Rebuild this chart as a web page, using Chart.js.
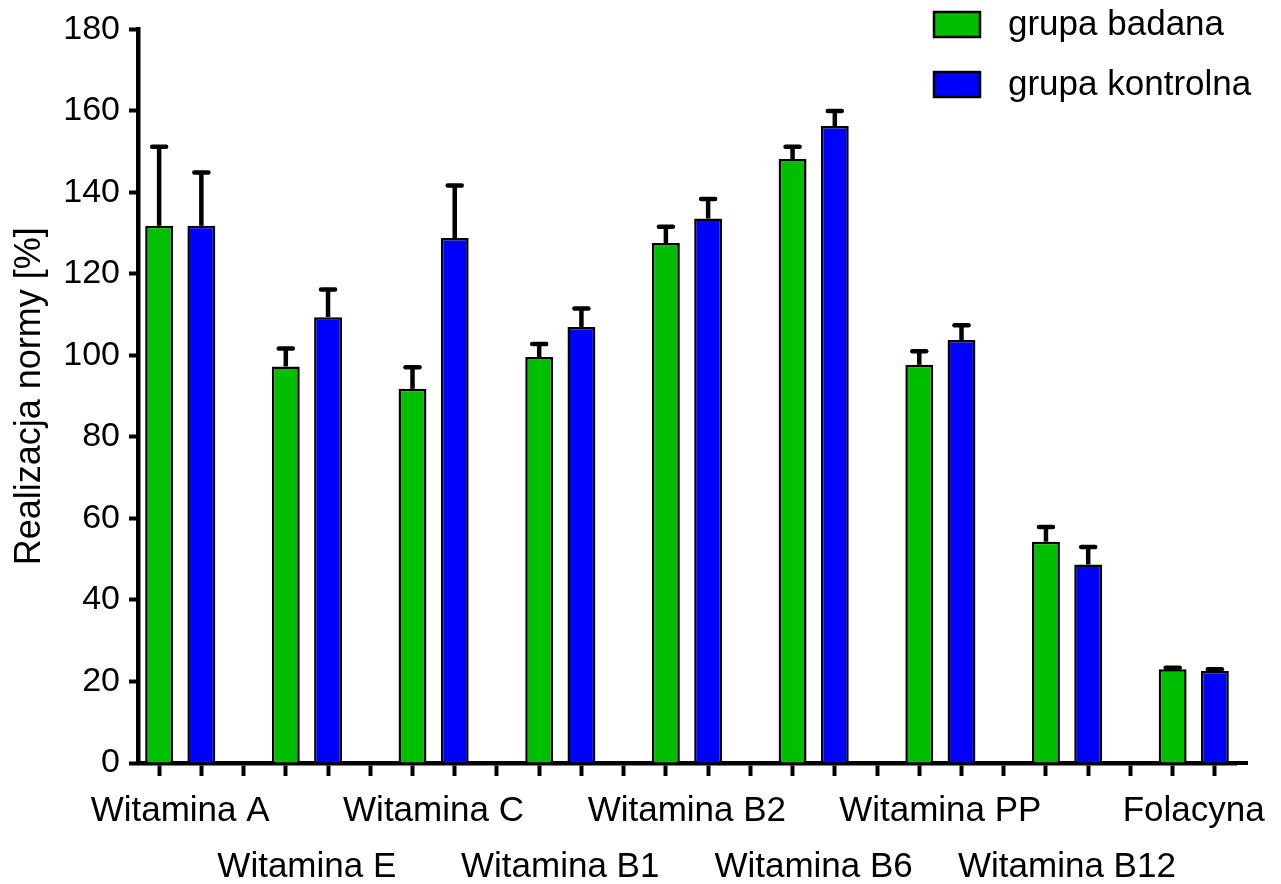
<!DOCTYPE html>
<html>
<head>
<meta charset="utf-8">
<script src="https://cdn.jsdelivr.net/npm/chart.js@4.4.1/dist/chart.umd.min.js"></script>
<style>
  html, body { margin: 0; padding: 0; background: #fff; }
  #wrap { width: 1281px; height: 884px; }
</style>
</head>
<body>
<div id="wrap"><canvas id="chart"></canvas></div>
<script>
// values
const categories = ['Witamina A', 'Witamina E', 'Witamina C', 'Witamina B1', 'Witamina B2',
    'Witamina B6', 'Witamina PP', 'Witamina B12', 'Folacyna'];
const badana = [131.8, 97.3, 91.8, 99.6, 127.6, 148.2, 97.7, 54.3, 23.0];
const badanaErr = [19.4, 4.4, 5.3, 3.2, 4.0, 3.0, 3.3, 3.6, 0.4];
const kontrolna = [131.8, 109.4, 128.8, 107.0, 133.6, 156.3, 103.8, 48.7, 22.6];
const kontrolnaErr = [13.1, 6.8, 12.9, 4.5, 4.8, 3.7, 3.6, 4.3, 0.4];
const yTicks = [0, 20, 40, 60, 80, 100, 120, 140, 160, 180];

const FONT = "'Liberation Sans', Arial, sans-serif";

// each group takes three slots: green, blue, empty (no empty slot after the last one)
const slotLabels = [];
const greenData = [];
const blueData = [];
const greenErr = [];
const blueErr = [];
categories.forEach((name, i) => {
    slotLabels.push(i % 2 === 0 ? [name] : ['', name]);
    slotLabels.push('');
    greenData.push(badana[i], null);
    blueData.push(null, kontrolna[i]);
    greenErr.push(badanaErr[i], null);
    blueErr.push(null, kontrolnaErr[i]);
    if (i < categories.length - 1) {
        slotLabels.push('');
        greenData.push(null);
        blueData.push(null);
        greenErr.push(null);
        blueErr.push(null);
    }
});

const errorBars = {
    id: 'errorBars',
    afterDatasetsDraw(chart) {
        const ctx = chart.ctx;
        const y = chart.scales.y;
        ctx.save();
        ctx.strokeStyle = '#000';
        ctx.lineWidth = 4.5;
        chart.data.datasets.forEach((ds, di) => {
            const meta = chart.getDatasetMeta(di);
            ds.errors.forEach((e, k) => {
                if (e == null || ds.data[k] == null) return;
                const x = meta.data[k].x;
                const top = y.getPixelForValue(ds.data[k] + e);
                const base = y.getPixelForValue(ds.data[k]);
                ctx.lineCap = 'butt';
                ctx.beginPath();
                ctx.moveTo(x, base);
                ctx.lineTo(x, top);
                ctx.stroke();
                ctx.lineCap = 'round';
                ctx.beginPath();
                ctx.moveTo(x - 7, top);
                ctx.lineTo(x + 7, top);
                ctx.stroke();
            });
        });
        ctx.restore();
    },
    afterDraw(chart) {
        const ctx = chart.ctx;
        const area = chart.chartArea;
        ctx.save();
        // x axis runs a bit past the last slot
        ctx.strokeStyle = '#000';
        ctx.lineWidth = 4;
        ctx.beginPath();
        ctx.moveTo(area.right - 2, area.bottom);
        ctx.lineTo(area.right + 12, area.bottom);
        ctx.stroke();

        // legend, top right
        ctx.font = '35px ' + FONT;
        ctx.textBaseline = 'middle';
        ctx.textAlign = 'left';
        chart.data.datasets.forEach((ds, i) => {
            const by = 12 + i * 60;
            ctx.fillStyle = ds.backgroundColor;
            ctx.fillRect(934, by, 46, 25);
            ctx.lineWidth = 2.5;
            ctx.strokeRect(934, by, 46, 25);
            ctx.fillStyle = '#000';
            ctx.fillText(ds.label, 1008, by + 13);
        });
        ctx.restore();
    }
};

new Chart(document.getElementById('chart'), {
    type: 'bar',
    data: {
        labels: slotLabels,
        datasets: [{
            label: 'grupa badana',
            data: greenData,
            errors: greenErr,
            backgroundColor: '#00bf00',
            borderColor: '#000',
            borderWidth: 2.5
        }, {
            label: 'grupa kontrolna',
            data: blueData,
            errors: blueErr,
            backgroundColor: '#0000ff',
            borderColor: '#000',
            borderWidth: 2.5
        }]
    },
    options: {
        responsive: true,
        maintainAspectRatio: false,
        animation: false,
        layout: { padding: { top: 28, right: 45, left: 0, bottom: 0 } },
        datasets: {
            bar: { grouped: false, categoryPercentage: 1, barPercentage: 0.66 }
        },
        plugins: {
            legend: { display: false },
            tooltip: { enabled: false }
        },
        scales: {
            x: {
                offset: true,
                afterFit(scale) { scale.height = 121; },
                grid: {
                    display: true,
                    drawOnChartArea: false,
                    offset: false,
                    color: '#000',
                    tickColor: '#000',
                    tickLength: 13,
                    tickWidth: 4
                },
                border: { display: true, color: '#000', width: 4.5 },
                ticks: {
                    autoSkip: false,
                    maxRotation: 0,
                    minRotation: 0,
                    labelOffset: 21,
                    padding: 7,
                    color: '#000',
                    font: { family: FONT, size: 35, lineHeight: 1.6 }
                }
            },
            y: {
                min: 0,
                max: 180,
                afterFit(scale) { scale.width = 138; },
                afterBuildTicks(scale) { scale.ticks = yTicks.map(v => ({ value: v })); },
                grid: {
                    display: true,
                    drawOnChartArea: false,
                    color: '#000',
                    tickColor: '#000',
                    tickLength: 9,
                    tickWidth: 4
                },
                border: { display: true, color: '#000', width: 4.5 },
                ticks: {
                    padding: 9,
                    color: '#000',
                    font: { family: FONT, size: 34 }
                },
                title: {
                    display: true,
                    text: 'Realizacja normy [%]',
                    color: '#000',
                    padding: { top: 8, bottom: 0 },
                    font: { family: FONT, size: 36 }
                }
            }
        }
    },
    plugins: [errorBars]
});
</script>
</body>
</html>
